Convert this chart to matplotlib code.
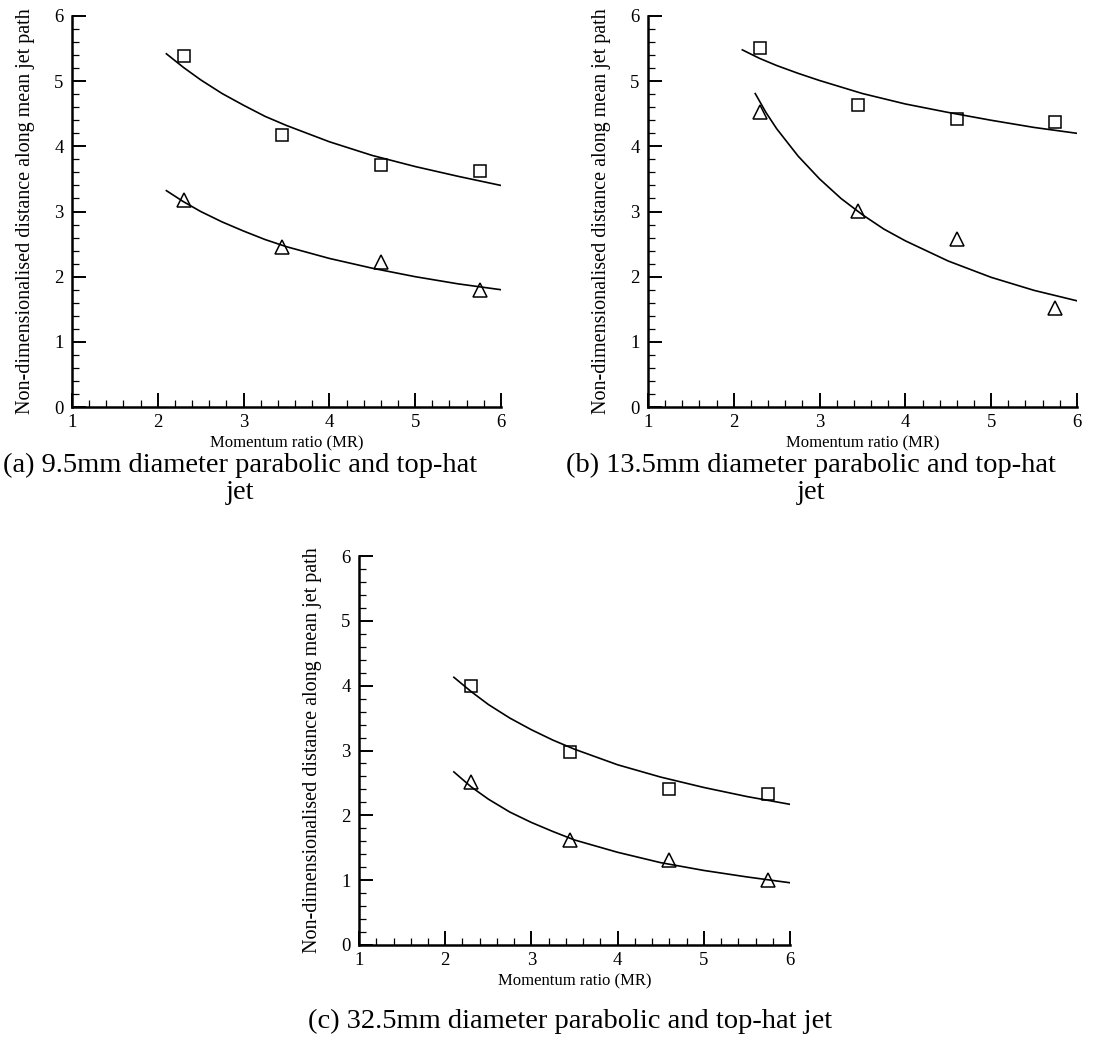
import matplotlib
matplotlib.use('Agg')
import matplotlib.pyplot as plt
from matplotlib.ticker import MultipleLocator

plt.rcParams['font.family'] = ['Liberation Serif', 'DejaVu Serif']

# measured points (same momentum ratios in every panel)
mr = [2.3, 3.45, 4.6, 5.75]

a_square = [5.38, 4.18, 3.72, 3.62]
a_triangle = [3.18, 2.45, 2.22, 1.80]
b_square = [5.51, 4.63, 4.42, 4.38]
b_triangle = [4.53, 3.01, 2.58, 1.52]
c_square = [4.00, 2.98, 2.40, 2.33]
c_triangle = [2.51, 1.62, 1.31, 1.00]

# fitted curves
fit_x = [2.1, 2.3, 2.5, 2.75, 3.0, 3.25, 3.5, 4.0, 4.5, 5.0, 5.5, 6.0]
a_fit_sq = [5.42, 5.21, 5.02, 4.81, 4.63, 4.46, 4.32, 4.07, 3.86, 3.69, 3.54, 3.40]
a_fit_tri = [3.32, 3.15, 3.00, 2.84, 2.70, 2.57, 2.46, 2.28, 2.13, 2.00, 1.89, 1.80]
b_fit_sq = [5.48, 5.35, 5.24, 5.12, 5.01, 4.91, 4.81, 4.65, 4.52, 4.40, 4.29, 4.20]
c_fit_sq = [4.13, 3.91, 3.71, 3.50, 3.32, 3.16, 3.02, 2.78, 2.59, 2.43, 2.29, 2.17]
c_fit_tri = [2.67, 2.44, 2.25, 2.05, 1.89, 1.75, 1.62, 1.43, 1.27, 1.15, 1.05, 0.96]

b_fit_tri_x = [2.25, 2.375, 2.5, 2.75, 3.0, 3.25, 3.5, 3.75, 4.0, 4.5, 5.0, 5.5, 6.0]
b_fit_tri = [4.81, 4.52, 4.27, 3.85, 3.50, 3.20, 2.95, 2.73, 2.55, 2.24, 1.99, 1.79, 1.63]

captions = ['(a) 9.5mm diameter parabolic and top-hat\njet',
            '(b) 13.5mm diameter parabolic and top-hat\njet',
            '(c) 32.5mm diameter parabolic and top-hat jet']


def draw_panel(ax, sq, tri, fx_sq, fy_sq, fx_tri, fy_tri):
    ax.plot(fx_sq, fy_sq, color='black', linewidth=1.2)
    ax.plot(fx_tri, fy_tri, color='black', linewidth=1.2)
    ax.plot(mr, sq, linestyle='none', marker='s', markersize=8.5,
            markerfacecolor='none', markeredgecolor='black', markeredgewidth=1.1)
    ax.plot(mr, tri, linestyle='none', marker='^', markersize=9.5,
            markerfacecolor='none', markeredgecolor='black', markeredgewidth=1.1)
    ax.set_xlim(1, 6)
    ax.set_ylim(0, 6)
    ax.spines['top'].set_visible(False)
    ax.spines['right'].set_visible(False)
    ax.spines['left'].set_linewidth(1.8)
    ax.spines['bottom'].set_linewidth(1.8)
    ax.xaxis.set_major_locator(MultipleLocator(1))
    ax.xaxis.set_minor_locator(MultipleLocator(0.2))
    ax.yaxis.set_major_locator(MultipleLocator(1))
    ax.yaxis.set_minor_locator(MultipleLocator(0.2))
    ax.tick_params(which='major', direction='in', length=10, width=1.4, labelsize=13.5)
    ax.tick_params(which='minor', direction='in', length=5, width=0.9)
    ax.tick_params(axis='x', which='major', pad=5)
    ax.tick_params(axis='y', which='major', pad=6)
    ax.set_xlabel('Momentum ratio (MR)', fontsize=12, labelpad=3)
    ax.set_ylabel('Non-dimensionalised distance along mean jet path', fontsize=14.5, labelpad=14)


fig = plt.figure(figsize=(11.13, 10.45), dpi=100)
ax_a = fig.add_axes([0.0647, 0.6105, 0.3854, 0.3742])
ax_b = fig.add_axes([0.5822, 0.6105, 0.3854, 0.3742])
ax_c = fig.add_axes([0.3226, 0.0957, 0.3872, 0.3722])

draw_panel(ax_a, a_square, a_triangle, fit_x, a_fit_sq, fit_x, a_fit_tri)
draw_panel(ax_b, b_square, b_triangle, fit_x, b_fit_sq, b_fit_tri_x, b_fit_tri)
draw_panel(ax_c, c_square, c_triangle, fit_x, c_fit_sq, fit_x, c_fit_tri)

fig.text(240 / 1113, 1 - 453 / 1045, captions[0], ha='center', va='top', fontsize=20.5, linespacing=1.08)
fig.text(811 / 1113, 1 - 453 / 1045, captions[1], ha='center', va='top', fontsize=20.5, linespacing=1.08)
fig.text(570 / 1113, 1 - 1009 / 1045, captions[2], ha='center', va='top', fontsize=20.5)

fig.savefig('out.png', dpi=100)
